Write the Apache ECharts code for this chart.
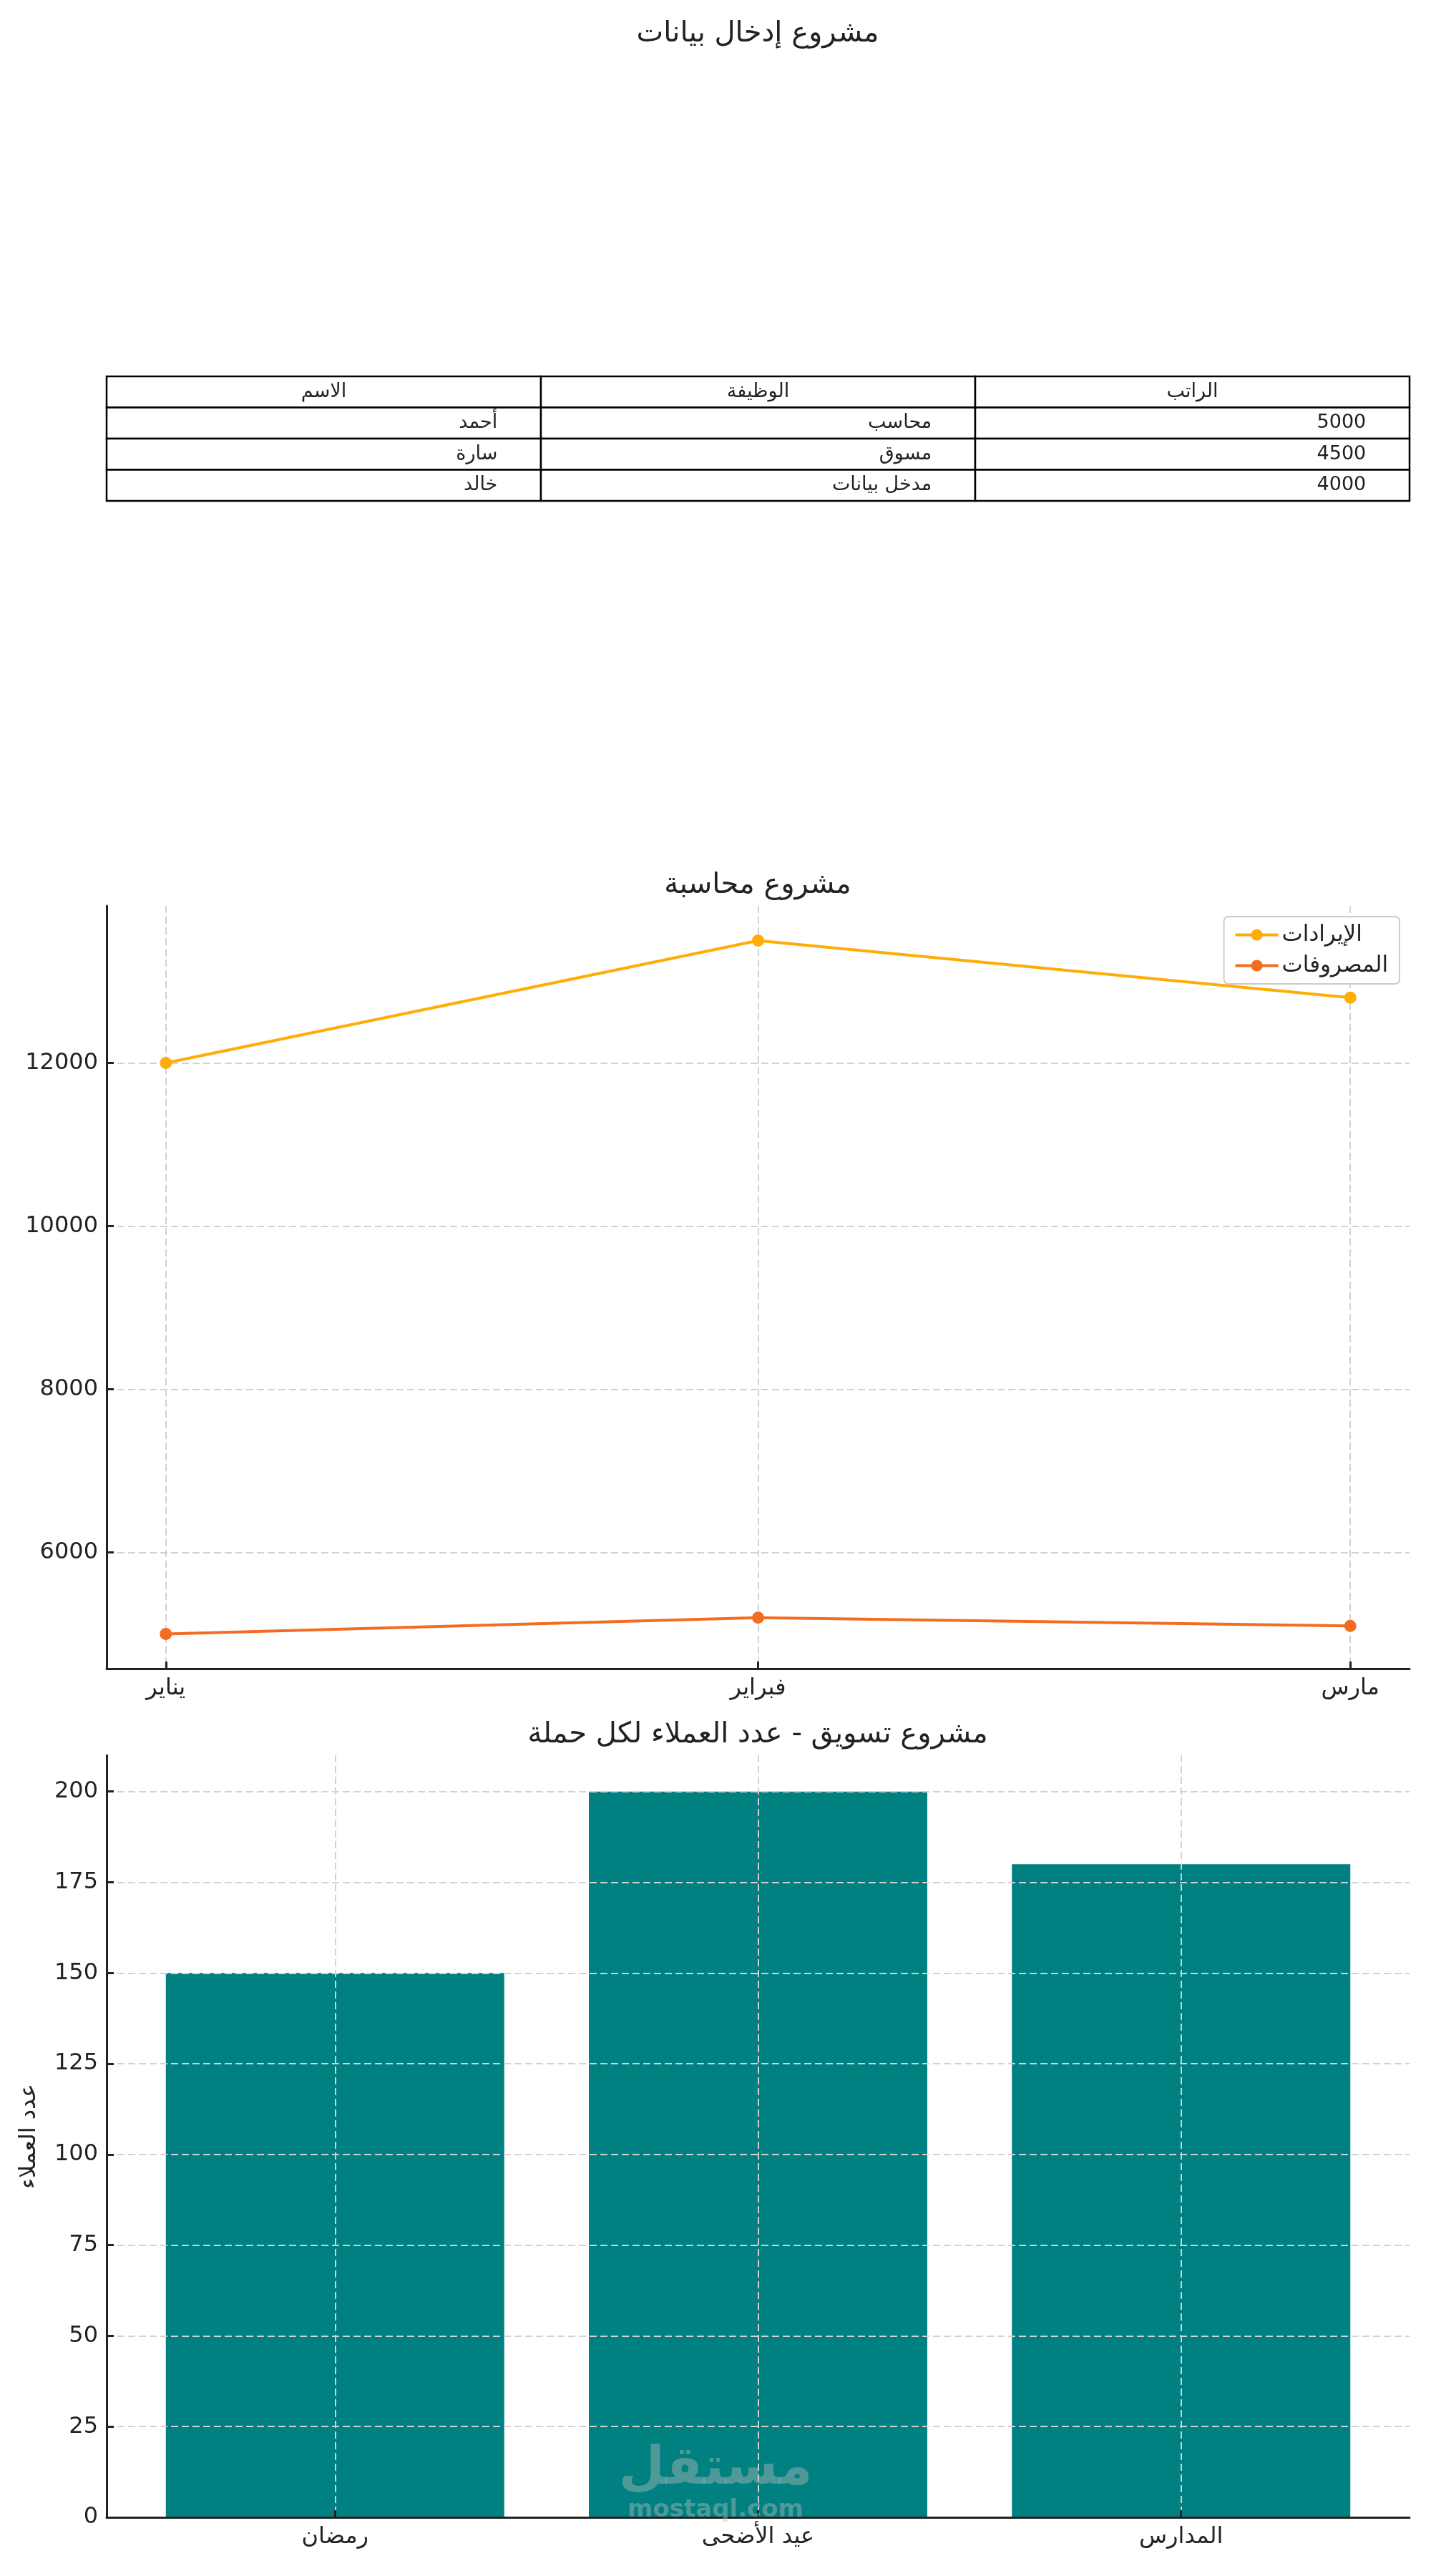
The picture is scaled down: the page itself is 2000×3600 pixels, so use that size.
<!DOCTYPE html>
<html><head><meta charset="utf-8">
<script src="https://cdn.jsdelivr.net/npm/echarts@6/dist/echarts.min.js"></script>
<style>html,body{margin:0;padding:0;background:#fff}#c{width:2000px;height:3600px}</style>
</head><body><div id="c"></div>
<script>
// ---- Data ----
const tableHeader = ['الاسم', 'الوظيفة', 'الراتب'];
const employeeNames = ['أحمد', 'سارة', 'خالد'];
const employeeJobs = ['محاسب', 'مسوق', 'مدخل بيانات'];
const employeeSalaries = [5000, 4500, 4000];

const months = ['يناير', 'فبراير', 'مارس'];
const revenue = [12000, 13500, 12800];
const expenses = [5000, 5200, 5100];
const lineYTicks = [6000, 8000, 10000, 12000];

const campaigns = ['رمضان', 'عيد الأضحى', 'المدارس'];
const customers = [150, 200, 180];
const barYTicks = [0, 25, 50, 75, 100, 125, 150, 175, 200];

const titles = ['مشروع إدخال بيانات', 'مشروع محاسبة', 'مشروع تسويق - عدد العملاء لكل حملة'];
const seriesNames = ['الإيرادات', 'المصروفات'];
const barAxisName = 'عدد العملاء';

// ---- Build table cells ----
const tableRows = [tableHeader].concat(employeeNames.map((n, i) => [n, employeeJobs[i], String(employeeSalaries[i])]));
const cells = [];
tableRows.forEach((row, r) => row.forEach((text, c) => cells.push({ col: c, row: r, text: text, header: r === 0 })));

const FONT = '"DejaVu Sans", sans-serif';
const TXT = '#222';
const GRID_X = { left: 149, width: 1821 };
const gridLineStyle = { color: '#d2d2d2', width: 2, type: [10, 5] };
const axisLineStyle = { color: '#222', width: 3 };
const tickStyle = { color: '#222', width: 3 };

const chart = echarts.init(document.getElementById('c'), null, { renderer: 'canvas' });

const barWidthPx = GRID_X.width * 0.8 / 3.08;

chart.setOption({
  animation: false,
  backgroundColor: '#fff',
  textStyle: { fontFamily: FONT },
  grid: [
    { left: GRID_X.left, width: GRID_X.width, top: 526, height: 174 },
    { left: GRID_X.left, width: GRID_X.width, top: 1266, height: 1066 },
    { left: GRID_X.left, width: GRID_X.width, top: 2453, height: 1065 }
  ],
  xAxis: [
    { gridIndex: 0, type: 'value', min: 0, max: 3, show: false },
    {
      gridIndex: 1, type: 'value', min: -0.1, max: 2.1,
      axisLine: { onZero: false, lineStyle: axisLineStyle },
      axisTick: { show: true, inside: true, length: 10, lineStyle: tickStyle, customValues: [0, 1, 2] },
      axisLabel: { customValues: [0, 1, 2], formatter: v => months[v], color: TXT, fontSize: 32, fontFamily: FONT, margin: 12 },
      splitLine: { show: true, lineStyle: gridLineStyle }
    },
    {
      gridIndex: 2, type: 'value', min: -0.54, max: 2.54, z: 5,
      axisLine: { onZero: false, lineStyle: axisLineStyle },
      axisTick: { show: true, inside: true, length: 10, lineStyle: tickStyle, customValues: [0, 1, 2] },
      axisLabel: { customValues: [0, 1, 2], formatter: v => campaigns[v], color: TXT, fontSize: 32, fontFamily: FONT, margin: 12 },
      splitLine: { show: true, lineStyle: gridLineStyle }
    }
  ],
  yAxis: [
    { gridIndex: 0, type: 'value', min: 0, max: 4, inverse: true, show: false },
    {
      gridIndex: 1, type: 'value', min: 4575, max: 13925,
      axisLine: { show: true, onZero: false, lineStyle: axisLineStyle },
      axisTick: { show: true, inside: true, length: 10, lineStyle: tickStyle, customValues: lineYTicks },
      axisLabel: { customValues: lineYTicks, formatter: v => String(v), color: TXT, fontSize: 32, fontFamily: FONT, margin: 12 },
      splitLine: { show: true, lineStyle: gridLineStyle }
    },
    {
      gridIndex: 2, type: 'value', min: 0, max: 210, z: 5,
      name: barAxisName, nameLocation: 'middle', nameRotate: 90, nameGap: 92,
      nameTextStyle: { color: TXT, fontSize: 32, fontFamily: FONT },
      axisLine: { show: true, onZero: false, lineStyle: axisLineStyle },
      axisTick: { show: true, inside: true, length: 10, lineStyle: tickStyle, customValues: barYTicks },
      axisLabel: { customValues: barYTicks, formatter: v => String(v), color: TXT, fontSize: 32, fontFamily: FONT, margin: 12 },
      splitLine: { show: true, lineStyle: gridLineStyle }
    }
  ],
  legend: {
    data: seriesNames,
    orient: 'vertical',
    right: 44, top: 1281,
    backgroundColor: '#fff',
    borderColor: '#cccccc', borderWidth: 2, borderRadius: 6,
    padding: [10, 16, 10, 14],
    itemGap: 12, itemWidth: 60, itemHeight: 20,
    lineStyle: { width: 4 },
    textStyle: { color: TXT, fontSize: 31, fontFamily: FONT }
  },
  series: [
    {
      type: 'custom', xAxisIndex: 0, yAxisIndex: 0,
      data: cells.map(c => [c.col, c.row]),
      renderItem: function (params, api) {
        const cell = cells[params.dataIndex];
        const p0 = api.coord([api.value(0), api.value(1)]);
        const p1 = api.coord([api.value(0) + 1, api.value(1) + 1]);
        const w = p1[0] - p0[0], h = p1[1] - p0[1];
        return {
          type: 'group',
          children: [
            { type: 'rect', shape: { x: p0[0], y: p0[1], width: w, height: h }, style: { fill: '#fff', stroke: '#000', lineWidth: 2.5 } },
            { type: 'text', style: {
                text: cell.text,
                x: cell.header ? p0[0] + w / 2 : p1[0] - 0.1 * w,
                y: p0[1] + h / 2,
                align: cell.header ? 'center' : 'right',
                verticalAlign: 'middle',
                fill: TXT, fontSize: 27, fontFamily: FONT
              } }
          ]
        };
      }
    },
    {
      type: 'line', name: seriesNames[0], xAxisIndex: 1, yAxisIndex: 1,
      data: months.map((m, i) => [i, revenue[i]]),
      symbol: 'circle', symbolSize: 17,
      lineStyle: { width: 4, color: '#ffad05' },
      itemStyle: { color: '#ffad05' }
    },
    {
      type: 'line', name: seriesNames[1], xAxisIndex: 1, yAxisIndex: 1,
      data: months.map((m, i) => [i, expenses[i]]),
      symbol: 'circle', symbolSize: 17,
      lineStyle: { width: 4, color: '#f36c21' },
      itemStyle: { color: '#f36c21' }
    },
    {
      type: 'bar', xAxisIndex: 2, yAxisIndex: 2,
      data: campaigns.map((c, i) => [i, customers[i]]),
      barWidth: barWidthPx,
      itemStyle: { color: '#008080' }
    }
  ],
  graphic: [
    { type: 'text', x: 1059, y: 48, style: { text: titles[0], align: 'center', verticalAlign: 'middle', fill: TXT, fontSize: 40, fontFamily: FONT } },
    { type: 'text', x: 1059, y: 1238, style: { text: titles[1], align: 'center', verticalAlign: 'middle', fill: TXT, fontSize: 40, fontFamily: FONT } },
    { type: 'text', x: 1059, y: 2425, style: { text: titles[2], align: 'center', verticalAlign: 'middle', fill: TXT, fontSize: 40, fontFamily: FONT } },
    { type: 'text', x: 1000, y: 3452, z: 100, style: { text: 'مستقل', align: 'center', verticalAlign: 'middle', fill: 'rgba(188,188,188,0.42)', fontSize: 74, fontWeight: 'bold', fontFamily: FONT } },
    { type: 'text', x: 1000, y: 3508, z: 100, style: { text: 'mostaql.com', align: 'center', verticalAlign: 'middle', fill: 'rgba(188,188,188,0.42)', fontSize: 34, fontWeight: 'bold', fontFamily: FONT } }
  ]
});
</script>
</body></html>
